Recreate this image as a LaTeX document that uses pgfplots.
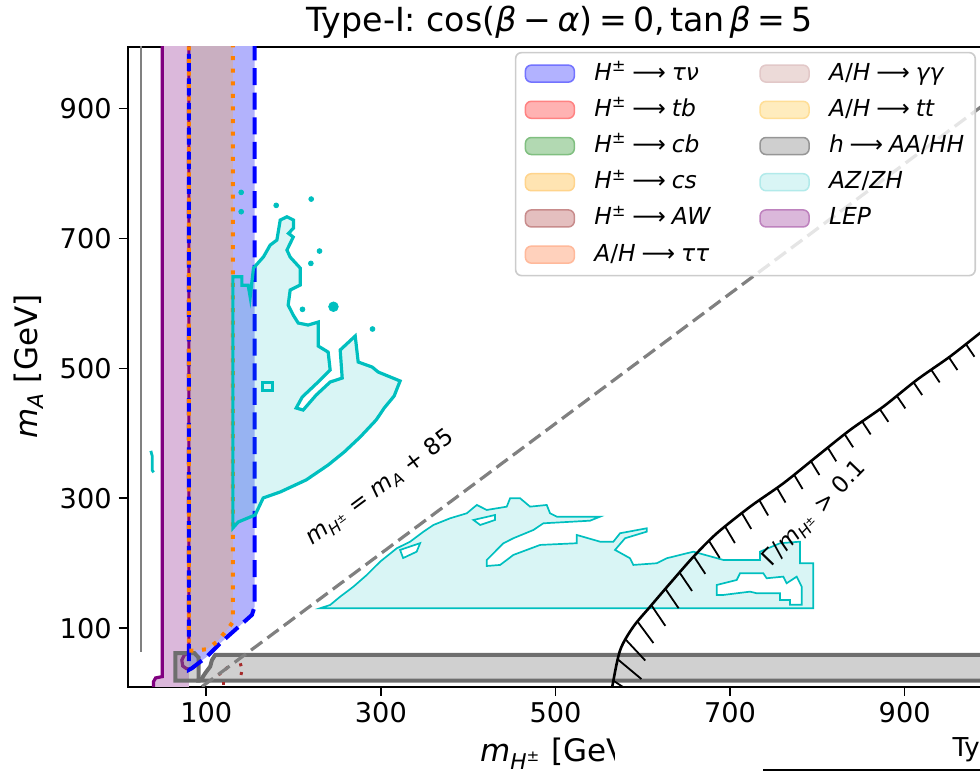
\documentclass[border=0pt]{standalone}
\usepackage{fontspec}
\setmainfont{DejaVu Sans}
\usepackage{pgfplots}
\pgfplotsset{compat=1.18}

\definecolor{cC}{RGB}{0,191,191}
\definecolor{lepfill}{RGB}{219,184,219}
\definecolor{taufill}{RGB}{178,178,252}
\definecolor{csfill}{RGB}{201,175,193}
\definecolor{dgray}{RGB}{110,110,110}
\definecolor{mybrown}{RGB}{165,42,42}
\definecolor{purp}{RGB}{128,0,128}
\definecolor{legframe}{RGB}{204,204,204}

\newcommand{\mH}{\textit{m}\textsubscript{\textit{H}\textsuperscript{±}}}
\newcommand{\Hpm}{\textit{H}\textsuperscript{±}}
\newcommand{\ar}{\hspace{0.25em}⟶\hspace{0.25em}}

\pgfplotsset{swatch/.style={legend image code/.code={\draw[##1, fill opacity=1, line width=0.75pt] (0pt,-4.25pt) rectangle (24.5pt,4.25pt);}}}

\begin{document}
\begin{tikzpicture}
\begin{axis}[
  at={(0,0)}, anchor=south west,
  scale only axis, width=432.15pt, height=320pt,
  xmin=10, xmax=1000, ymin=10, ymax=995,
  xtick={100,300,500,700,900}, ytick={100,300,500,700,900},
  tick align=outside, xtick pos=left, ytick pos=left,
  major tick length=4.5pt,
  every tick/.style={black, line width=0.8pt},
  axis line style={line width=0.85pt},
  tick label style={font=\fontsize{13.6}{16}\selectfont},
  /pgf/number format/assume math mode=true,
  unbounded coords=jump,
  xlabel={\mH{} [GeV]},
  xlabel style={font=\fontsize{15.5}{18}\selectfont, at={(axis description cs:0.5,-0.1172)}, anchor=base, inner sep=0pt},
  ylabel={\textit{m}\textsubscript{\textit{A}} [GeV]},
  ylabel style={font=\fontsize{15.5}{18}\selectfont, at={(axis description cs:-0.1142,0.5)}, anchor=center, inner sep=0pt},
  legend columns=2, legend cell align=left,
  legend style={at={(0.9815,0.992)}, anchor=north east, draw=legframe, line width=0.8pt,
    rounded corners=3pt, fill=white, fill opacity=0.8, text opacity=1, draw opacity=1,
    font=\fontsize{11.7}{14}\selectfont, inner xsep=4.5pt, inner ysep=3.75pt, row sep=4.6pt,
    nodes={inner sep=1pt, text height=9pt, text depth=2.5pt},
    /tikz/every even column/.append style={column sep=23pt},
    /tikz/every odd column/.append style={column sep=8.6pt}},
]
% legend entries
\addlegendimage{swatch, fill={rgb,255:red,178;green,178;blue,255}, draw={rgb,255:red,115;green,115;blue,255}}
\addlegendentry{\Hpm\ar\textit{τν}}
\addlegendimage{swatch, fill={rgb,255:red,236;green,218;blue,216}, draw={rgb,255:red,226;green,200;blue,200}}
\addlegendentry{\textit{A}/\textit{H}\ar\textit{γγ}}
\addlegendimage{swatch, fill={rgb,255:red,255;green,178;blue,178}, draw={rgb,255:red,255;green,130;blue,130}}
\addlegendentry{\Hpm\ar\textit{tb}}
\addlegendimage{swatch, fill={rgb,255:red,255;green,236;blue,190}, draw={rgb,255:red,255;green,222;blue,150}}
\addlegendentry{\textit{A}/\textit{H}\ar\textit{tt}}
\addlegendimage{swatch, fill={rgb,255:red,178;green,217;blue,178}, draw={rgb,255:red,128;green,191;blue,128}}
\addlegendentry{\Hpm\ar\textit{cb}}
\addlegendimage{swatch, fill={rgb,255:red,207;green,207;blue,207}, draw={rgb,255:red,150;green,150;blue,150}}
\addlegendentry{\textit{h}\ar\textit{AA}/\textit{HH}}
\addlegendimage{swatch, fill={rgb,255:red,255;green,228;blue,178}, draw={rgb,255:red,255;green,212;blue,140}}
\addlegendentry{\Hpm\ar\textit{cs}}
\addlegendimage{swatch, fill={rgb,255:red,217;green,245;blue,245}, draw={rgb,255:red,178;green,234;blue,234}}
\addlegendentry{\textit{AZ}/\textit{ZH}}
\addlegendimage{swatch, fill={rgb,255:red,228;green,191;blue,191}, draw={rgb,255:red,200;green,140;blue,140}}
\addlegendentry{\Hpm\ar\textit{AW}}
\addlegendimage{swatch, fill={rgb,255:red,219;green,184;blue,219}, draw={rgb,255:red,190;green,130;blue,190}}
\addlegendentry{\textit{LEP}}
\addlegendimage{swatch, fill={rgb,255:red,255;green,209;blue,188}, draw={rgb,255:red,255;green,185;blue,155}}
\addlegendentry{\textit{A}/\textit{H}\ar\textit{ττ}}

% LEP strip
\addplot[forget plot, draw=none, fill=lepfill] coordinates {(49.5,1000)(80.1,1000)(80.1,0)(39.6,0)(39.6,17.8)(42,23.5)(49.5,25.5)} -- cycle;
% H+ -> tau nu
\addplot[forget plot, draw=none, fill=taufill] coordinates {(80.1,1000)(155.3,1000)(155.3,133)(152.3,120.5)(116,77)(100.8,56.3)(83.6,38.5)(80.1,36)} -- cycle;
% H+ -> cs overlap
\addplot[forget plot, draw=none, fill=csfill] coordinates {(80.1,1000)(130.5,1000)(130.5,110)(125.5,100)(112,79)(100.8,67.7)(86,65.5)(80.1,65.5)} -- cycle;

% thin gray line
\addplot[forget plot, gray, line width=1pt] coordinates {(25.2,64)(25.2,1000)};
% LEP boundary
\addplot[forget plot, purp, line width=1.6pt] coordinates {(49.5,1000)(49.5,25.5)(42,23.5)(39.6,17.8)(39.6,0)};
\addplot[forget plot, purp, line width=1.6pt] coordinates {(80.1,1000)(80.1,62)(75,59)(72,51)(73,42)(77,38)(80.1,37)};

% h -> AA/HH
\addplot[forget plot, draw=dgray, line width=2pt, fill=gray, fill opacity=0.37] coordinates {(64.7,61.5)(86.5,61.5)(91.1,55)(91.1,19.4)(64.7,19.4)} -- cycle;
\addplot[forget plot, draw=dgray, line width=2pt, fill=gray, fill opacity=0.37] coordinates {(110.3,59)(1010,59)(1010,19.4)(93,19.4)(95,23)(98.8,30.8)(104.5,41)(106.5,51)} -- cycle;

% boundaries
\addplot[forget plot, blue, line width=2pt, dash pattern=on 8.5pt off 3.8pt] coordinates {(155.3,1000)(155.3,133)(152.3,120.5)(116,77)(100.8,56.3)(83.6,38.5)(80.1,36)(80.1,1000)};
\addplot[forget plot, orange, line width=2pt, dash pattern=on 2pt off 4.3pt] coordinates {(130.5,1000)(130.5,110)(125.5,100)(112,79)(100.8,67.7)(86,65.5)(80.1,65.5)(80.1,1000)};
\addplot[forget plot, mybrown, line width=1.5pt, dash pattern=on 1.5pt off 3pt] coordinates {(114,28)(122,37)(129.4,46)};
\addplot[forget plot, mybrown, line width=1.5pt, dash pattern=on 1.5pt off 3pt] coordinates {(139,46)(141,36)(139,23)};
\addplot[forget plot, mybrown, line width=1.5pt, dash pattern=on 1.5pt off 3pt] coordinates {(119.8,17)(119.8,8)};

% m_H = m_A + 85
\addplot[forget plot, gray, line width=1.6pt, dash pattern=on 7pt off 3.2pt] coordinates {(95,10)(1000,915)};

% AZ/ZH upper region
\addplot[forget plot, draw=cC, line width=1.6pt, fill=cC, fill opacity=0.15] coordinates {
(130.5,254.3)(130.5,605)(130.5,641)(140.8,641)(140.8,628)(148,628)(150.3,609.7)(154.1,654.3)
(165.6,671.7)(173.2,689.7)(180.9,697.4)(184.7,728.2)(192.4,733.2)(199.9,728.2)(199.9,715.8)
(194.2,707.7)(199.6,702)(192.4,682)(196.1,671.2)(207.6,654.3)(207.6,628.2)(196.1,620.5)
(193.8,597.4)(199.6,582)(205.3,569.7)(216.7,566.6)(228.2,571.2)(228.2,534.3)(239.6,525)
(241.9,497.4)(230.5,482)(209.9,455.8)(203,438.9)(211,435.8)(225.9,458.9)(241.9,478.9)
(255.7,485)(253.4,528.2)(270.6,549.7)(274,509.7)(290,502)(296.9,494.3)(322,480.5)
(315.2,457.4)(303.8,438.9)(294.6,420.5)(276.3,394.3)(258,371.2)(239.6,351.2)(214.4,328.2)
(184.7,309.7)(165.2,300.5)(156,274.3)(136.6,263.5)} -- cycle;
\addplot[forget plot, only marks, mark=*, mark size=1.2pt, cC] coordinates {(140,770.8)(140,741)(180.1,750.8)(220.2,760.5)(229.7,680.5)(219.8,661.5)(210.2,590.8)(290.4,560.5)};
\addplot[forget plot, only marks, mark=*, mark size=2.4pt, cC] coordinates {(245.7,594.8)};
\addplot[forget plot, cC, line width=1.4pt] coordinates {(164.5,466)(176,466)(176,478)(164.5,478)} -- cycle;
\addplot[forget plot, cC, line width=1.4pt] coordinates {(36.5,373)(38.1,365)(38.1,343)(39.8,340)};

% AZ/ZH lower region
\addplot[forget plot, draw=cC, line width=0.85pt, fill=cC, fill opacity=0.15] coordinates {
(230.5,130.8)(241.9,135.8)(253.4,148.6)(268.6,164)(283.9,182)(299.2,202.5)(318.3,223.1)
(333.5,233.2)(348.8,248.6)(360.2,258.9)(379.3,269.2)(398.4,276.9)(409.9,289.7)(421.3,282)
(444.2,287.1)(448,300)(459.5,300)(470.9,287.1)(490,289.7)(493.8,276.9)(501.5,271.7)
(551.1,271.7)(539.6,265.5)(486.1,261.5)(474.7,251.2)(451.8,238.5)(440.4,230.8)(421.3,205.1)
(421.3,195.8)(436.6,197.4)(451.8,212.8)(482.4,228.2)(524.4,230.8)(524.4,243.5)(551.1,233.2)
(566.3,233.2)(574,246.2)(604.5,253.8)(604.5,248.6)(579.7,238.5)(568.2,220.5)(585.4,207.7)
(589.2,197.4)(616,200)(627.4,207.7)(657.9,217.8)(692.2,205.1)(734.3,205.1)(734.3,217.8)
(757.2,230.8)(780.1,233.2)(780.1,200)(795.3,200)(795.3,130.8)} -- cycle;
\addplot[forget plot, draw=cC, line width=0.85pt, fill=white] coordinates {
(684.7,166.6)(707.6,174.3)(711.4,184.6)(738,184.6)(741.9,176.9)(760.9,179.4)(764.8,169.2)
(776.3,179.4)(782,164)(782,136)(768.6,136)(768.6,143.5)(757.2,143.5)(757.2,153.8)
(730.5,153.8)(722.8,156.3)(692.2,151.2)(684.7,151.2)} -- cycle;
\addplot[forget plot, draw=cC, line width=0.85pt, fill=white] coordinates {(406,266.6)(430.8,274.3)(430.8,266.6)(413.8,258.9)} -- cycle;
\addplot[forget plot, draw=cC, line width=0.85pt, fill=white] coordinates {(322,220.5)(345,231)(341,217.8)(325.5,208)} -- cycle;

% Gamma/m > 0.1 contour
\addplot[forget plot, black, line width=1.3pt, smooth, tension=0.5] coordinates {
(564,0)(565,10)(574,66)(589,102)(608.3,133)(631.2,169)(658,210)(684.7,246)(722.9,287)
(761,323)(799,364)(837.3,405)(875.5,441)(913.7,482)(951.8,518)(986,554)(1000,568)};
% its hatch ticks
\addplot[forget plot, black, line width=0.9pt] coordinates {
(566.5,19.2)(597.4,-8.3) (nan,nan)
(571.7,51.7)(598.4,21.8) (nan,nan)
(580.6,82.3)(602.8,50.3) (nan,nan)
(594,110.2)(612.2,77.2) (nan,nan)
(609.8,135.5)(625.8,103.7) (nan,nan)
(625.8,160.8)(641,130.8) (nan,nan)
(642.1,185.8)(656.4,157.4) (nan,nan)
(658.4,210.8)(671.6,183.7) (nan,nan)
(675.9,234.3)(688.1,208.2) (nan,nan)
(694.3,256.5)(705.5,231.1) (nan,nan)
(713.5,277.2)(724.2,252.8) (nan,nan)
(733.5,297.1)(743.6,273.5) (nan,nan)
(753.6,316.2)(763.5,293.4) (nan,nan)
(773.3,336.3)(783,314.3) (nan,nan)
(792.6,357.1)(802.3,335.8) (nan,nan)
(812,377.7)(821.6,356.9) (nan,nan)
(831.2,398.6)(840.9,378.5) (nan,nan)
(851.3,418.2)(861,398.3) (nan,nan)
(871.5,437.2)(881.3,417.7) (nan,nan)
(891,457.7)(900.7,438.3) (nan,nan)
(910.2,478.3)(920,458.9) (nan,nan)
(930.4,497.7)(940.1,478.3) (nan,nan)
(950.7,516.8)(960.4,497.4) (nan,nan)
(970.2,537.2)(979.9,517.8) (nan,nan)
(990.2,558.2)(999.9,538.9)};

\node[rotate=36.7, font=\fontsize{11.5}{14}\selectfont] at (axis cs:299,316) {\mH{} = \textit{m}\textsubscript{\textit{A}} + 85};
\node[rotate=46, font=\fontsize{11.5}{14}\selectfont] at (axis cs:797,276) {Γ/\mH{} > 0.1};
\end{axis}
% title
\node[anchor=base, inner sep=0pt, font=\fontsize{16.6}{20}\selectfont] at (216.1pt,327.5pt)
  {Type-I: cos(\textit{β}\hspace{0.2em}−\hspace{0.2em}\textit{α})\hspace{0.2em}=\hspace{0.2em}0,\hspace{0.15em}tan\hspace{0.15em}\textit{β}\hspace{0.2em}=\hspace{0.2em}5};
% overlapping neighbouring panel
\fill[white] (243.65pt,-18.15pt) rectangle (430pt,-45pt);
\node[anchor=base west, font=\fontsize{13}{15}\selectfont, inner sep=0pt] at (412.2pt,-35pt) {Type-I};
\draw[line width=0.8pt] (317.65pt,-41.65pt) -- (430pt,-41.65pt);
\pgfresetboundingbox
\path[use as bounding box] (-63.85pt,-42.65pt) rectangle (426.15pt,343.35pt);
\end{tikzpicture}
\end{document}
